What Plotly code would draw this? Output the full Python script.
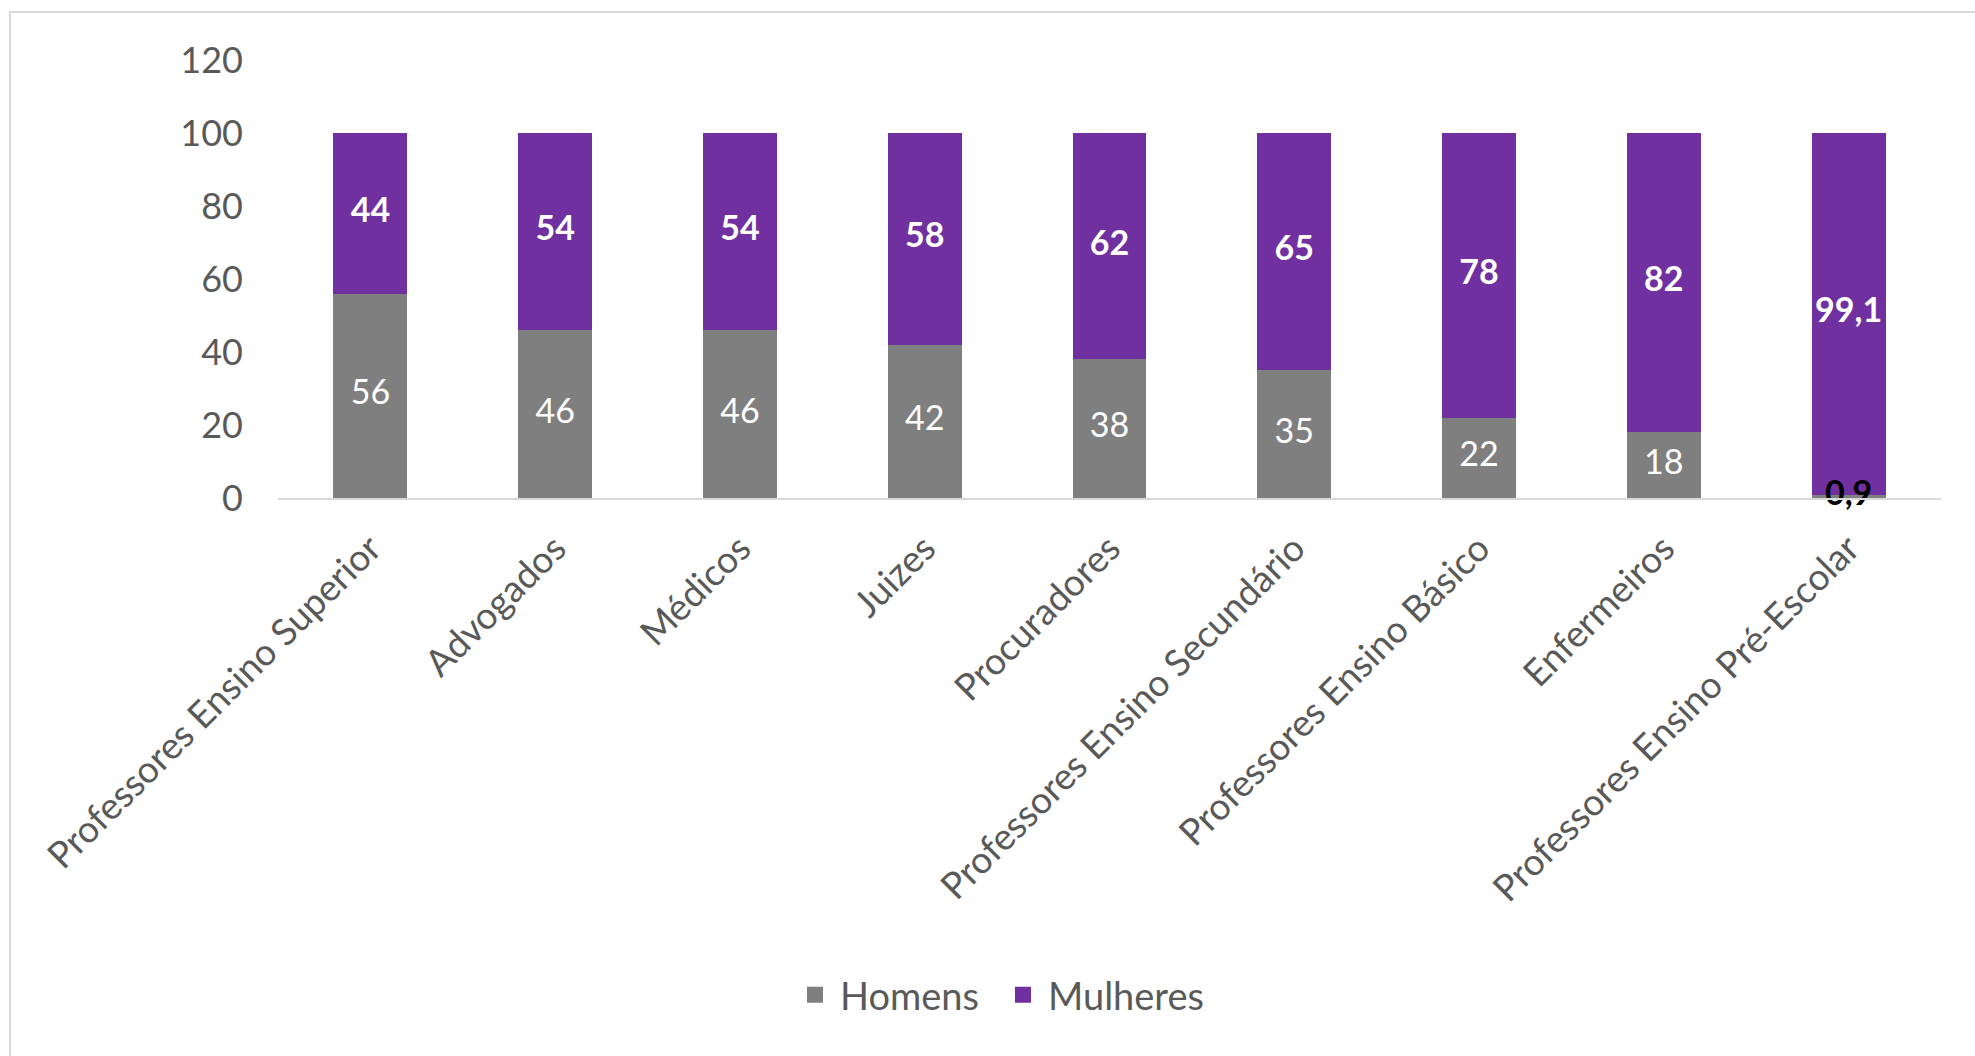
import plotly.graph_objects as go

# Share of men and women per profession (%)
profissoes = [
    "Professores Ensino Superior",
    "Advogados",
    "Médicos",
    "Juizes",
    "Procuradores",
    "Professores Ensino Secundário",
    "Professores Ensino Básico",
    "Enfermeiros",
    "Professores Ensino Pré-Escolar",
]
homens = [56, 46, 46, 42, 38, 35, 22, 18, 0.9]
mulheres = [44, 54, 54, 58, 62, 65, 78, 82, 99.1]

y_ticks = [0, 20, 40, 60, 80, 100, 120]

COR_HOMENS = "#7f7f7f"
COR_MULHERES = "#7030a0"
FONTE = "Lato, Open Sans, sans-serif"

W, H = 1975, 1056
ML, MR, MT, MB = 278, 34, 60, 558


def fmt(v):
    return ("%g" % v).replace(".", ",")


fig = go.Figure()
fig.add_trace(go.Bar(x=profissoes, y=homens, name="Homens",
                     marker=dict(color=COR_HOMENS, line=dict(width=0)),
                     hoverinfo="skip", showlegend=False))
fig.add_trace(go.Bar(x=profissoes, y=mulheres, name="Mulheres",
                     marker=dict(color=COR_MULHERES, line=dict(width=0)),
                     hoverinfo="skip", showlegend=False))

# Legend entries with larger square swatches
for nome, cor in (("Homens", COR_HOMENS), ("Mulheres", COR_MULHERES)):
    fig.add_trace(go.Scatter(x=[None], y=[None], mode="markers", name=nome,
                             marker=dict(symbol="square", size=18, color=cor),
                             hoverinfo="skip"))

# Value labels centred in each segment
lab_h_col = ["white" if v >= 5 else "black" for v in homens]
fig.add_trace(go.Scatter(
    x=profissoes, y=[v / 2 for v in homens], mode="text",
    text=[fmt(v) if v >= 5 else "<b>%s</b>" % fmt(v) for v in homens],
    textfont=dict(family=FONTE, size=34, color=lab_h_col),
    showlegend=False, hoverinfo="skip", cliponaxis=False))
fig.add_trace(go.Scatter(
    x=profissoes, y=[h + m / 2 for h, m in zip(homens, mulheres)], mode="text",
    text=["<b>%s</b>" % fmt(v) for v in mulheres],
    textfont=dict(family=FONTE, size=34, color="white"),
    showlegend=False, hoverinfo="skip", cliponaxis=False))

pw = W - ML - MR
ph = H - MT - MB
# light frame around the chart area
fig.add_shape(type="rect", xref="paper", yref="paper",
              x0=(10 - ML) / pw, x1=(W + 10 - ML) / pw,
              y0=-(MB + 10) / ph, y1=1 + (MT - 12) / ph,
              line=dict(color="#d9d9d9", width=2), fillcolor="rgba(0,0,0,0)",
              layer="below")

fig.update_layout(
    width=W, height=H,
    margin=dict(l=ML, r=MR, t=MT, b=MB, pad=0),
    paper_bgcolor="white", plot_bgcolor="white",
    barmode="stack", bargap=0.6,
    font=dict(family=FONTE, color="#595959"),
    legend=dict(orientation="h", xref="paper", yref="paper",
                x=(998 - ML) / pw, xanchor="center",
                y=-(995 - (H - MB)) / ph, yanchor="middle",
                font=dict(size=38, color="#595959"),
                itemsizing="trace", traceorder="normal",
                itemwidth=40, entrywidth=153, entrywidthmode="pixels"),
    xaxis=dict(tickangle=-45, tickfont=dict(size=37, color="#595959"),
               showline=True, linecolor="#d9d9d9", linewidth=2,
               showgrid=False, ticks="", ticklen=0, ticklabelstandoff=12),
    yaxis=dict(range=[0, 120], tickvals=y_ticks, showgrid=False,
               zeroline=False, showline=False, ticks="",
               tickfont=dict(size=36, color="#595959"), ticklabelstandoff=34),
)

fig.write_html("out.html")
